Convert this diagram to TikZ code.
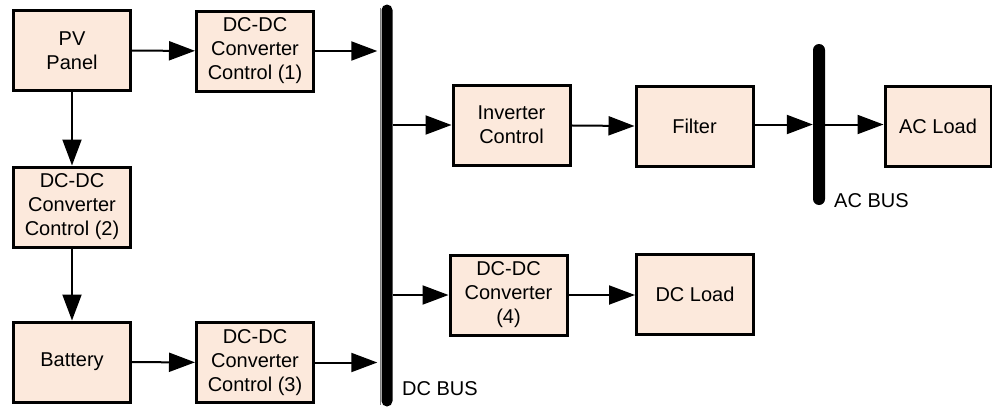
\documentclass[tikz,border=0pt]{standalone}
\usepackage{fontspec}
\setmainfont{Liberation Sans}
\usetikzlibrary{arrows.meta}
\definecolor{boxfill}{RGB}{252,233,220}
\begin{document}
\begin{tikzpicture}[x=1pt,y=-1pt,
  blk/.style={draw=black,line width=3pt,fill=boxfill,rectangle,
    minimum width=117pt,minimum height=80pt,inner sep=0pt,align=center,
    font=\fontsize{20}{24}\selectfont},
  flow/.style={line width=2pt,-{Triangle[length=26pt,width=19pt]}},
  busbar/.style={fill=black,rounded corners=5.5pt,minimum width=11pt,inner sep=0pt},
  lbl/.style={font=\fontsize{20}{24}\selectfont,anchor=west,inner sep=0pt}]
\useasboundingbox (0,0) rectangle (992,407);

% source side
\node[blk] (pv)  at (72,50.5)  {PV\\Panel};
\node[blk] (dc1) at (255,51)   {DC-DC\\Converter\\Control (1)};
\node[blk] (dc2) at (72,207)   {DC-DC\\Converter\\Control (2)};
\node[blk] (bat) at (72,362)   {Battery};
\node[blk] (dc3) at (255,362.5){DC-DC\\Converter\\Control (3)};

% DC bus with its grey edge
\node[busbar,minimum height=402pt] (dcbus) at (387,205.5) {};
\draw[gray,line width=1.2pt] ([xshift=-0.6pt,yshift=-4pt]dcbus.north west) -- ([xshift=-0.6pt,yshift=2pt]dcbus.south west);
\node[lbl] (dclbl) at (402,389) {DC BUS};

% load side
\node[blk] (inv) at (511.5,125) {Inverter\\Control};
\node[blk] (fil) at (694.5,126.5) {Filter};
\node[busbar,minimum width=12pt,rounded corners=6pt,minimum height=161pt] (acbus) at (819,124.5) {};
\node[lbl] (aclbl) at (834,201) {AC BUS};
\node[blk,minimum width=106pt,anchor=west] (acl) at (883.5,126.5) {AC Load};
\node[blk] (dc4) at (508.5,295) {DC-DC\\Converter\\(4)};
\node[blk] (dcl) at (695,294) {DC Load};

% connectors
\draw[flow] (pv) -- (dc1);
\draw[flow] (dc1) -- ([xshift=-4pt]dcbus.west |- dc1);
\draw[flow] (pv) -- (dc2);
\draw[flow] (dc2) -- (bat);
\draw[flow] (bat) -- (dc3);
\draw[flow] (dc3) -- ([xshift=-4pt]dcbus.west |- dc3);
\draw[flow] (dcbus.east |- inv) -- (inv);
\draw[flow] (inv) -- (fil);
\draw[flow] (fil.east |- acbus) -- (acbus.west);
\draw[flow] (acbus.east) -- (acl.west |- acbus);
\draw[flow] (dcbus.east |- dc4) -- (dc4);
\draw[flow] (dc4) -- (dcl.west |- dc4);
\end{tikzpicture}
\end{document}
